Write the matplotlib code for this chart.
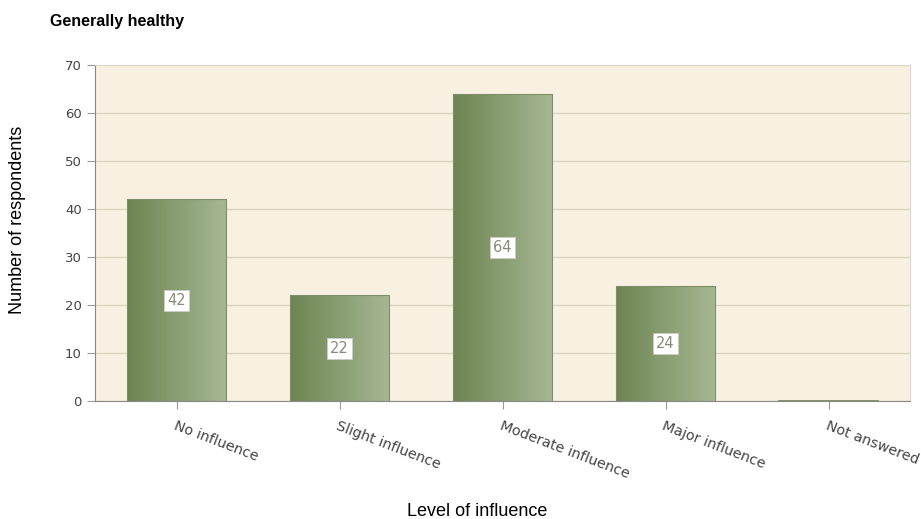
import matplotlib.pyplot as plt
import numpy as np
from matplotlib.colors import LinearSegmentedColormap

categories = ['No influence', 'Slight influence', 'Moderate influence', 'Major influence', 'Not answered']
values = [42, 22, 64, 24, 0]
y_ticks = [0, 10, 20, 30, 40, 50, 60, 70]

fig = plt.figure(figsize=(9.21, 5.19), dpi=100)
ax = fig.add_axes([95 / 921, 118 / 519, 815 / 921, 336 / 519])
ax.set_facecolor('#f8f1e2')

# gradient for the bars, dark green on the left to pale on the right
cmap = LinearSegmentedColormap.from_list('bar', ['#6d8452', '#a6b893'])
grad = np.linspace(0, 1, 256).reshape(1, -1)

x = np.arange(len(categories))
width = 0.61
bars = ax.bar(x, values, width=width, color='none', edgecolor='#7d8f6a', linewidth=0.8, zorder=3)
for b, v in zip(bars, values):
    x0 = b.get_x()
    h = b.get_height()
    if h == 0:
        ax.plot([x0, x0 + width], [0.1, 0.1], color='#6d8452', lw=1.2, zorder=4)
        continue
    im = ax.imshow(grad, cmap=cmap, aspect='auto', extent=[x0, x0 + width, 0, h], zorder=2)
    im.set_clip_path(b)
    ax.text(b.get_x() + width / 2, h / 2, str(v), ha='center', va='center', fontsize=10.5,
            color='#8a8a7a', zorder=5,
            bbox=dict(boxstyle='square,pad=0.2', facecolor='white', edgecolor='#cccccc', linewidth=0.5))

ax.set_xlim(-0.5, 4.5)
ax.set_ylim(0, 70)
ax.set_yticks(y_ticks)
ax.set_xticks(x)
ax.set_xticklabels(categories, rotation=-21, ha='left', rotation_mode='anchor', fontsize=10.3, color='#444444')
ax.tick_params(axis='y', labelsize=9.5, colors='#444444', length=6, color='#999999')
ax.tick_params(axis='x', length=6, color='#999999', pad=7)

ax.grid(axis='y', color='#ddd5c0', linewidth=1, zorder=0)
ax.set_axisbelow(True)
for s in ['top', 'right']:
    ax.spines[s].set_color('#e0d8c6')
ax.spines['left'].set_color('#888888')
ax.spines['bottom'].set_color('#888888')

fig.text(50 / 921, 1 - 22 / 519, 'Generally healthy', fontsize=11.5, fontweight='bold',
         family='Liberation Sans', va='center', ha='left')
fig.text(18 / 921, 1 - 220 / 519, 'Number of respondents', fontsize=13, family='Liberation Sans',
         rotation=90, va='center', ha='center')
fig.text(477 / 921, 1 - 511 / 519, 'Level of influence', fontsize=13, family='Liberation Sans',
         va='center', ha='center')

fig.savefig('out.png', dpi=100)
